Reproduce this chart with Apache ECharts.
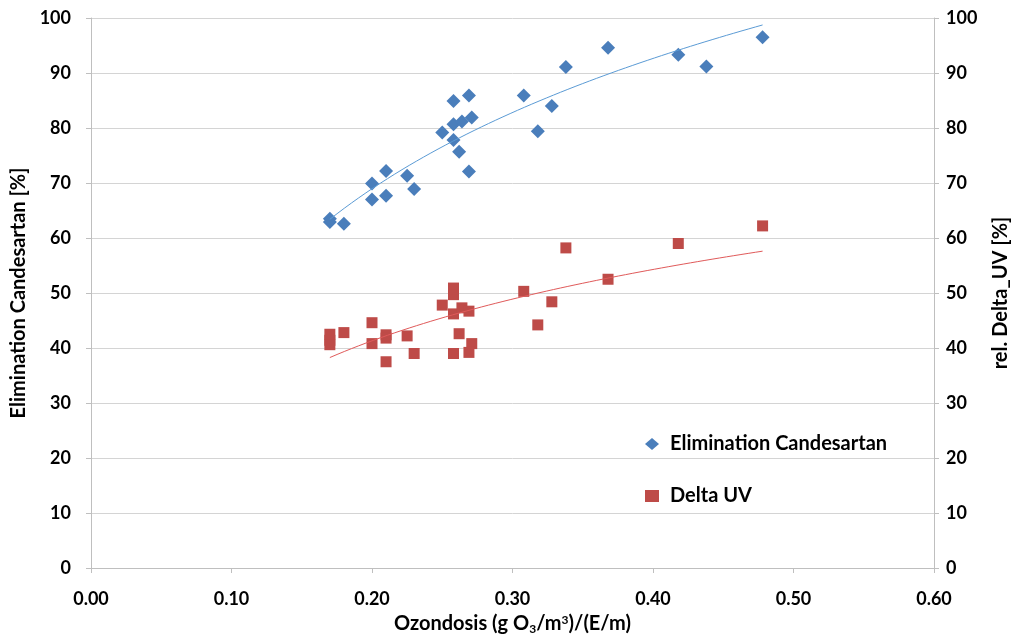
<!DOCTYPE html>
<html>
<head>
<meta charset="utf-8">
<script src="https://cdn.jsdelivr.net/npm/echarts@6/dist/echarts.min.js"></script>
<style>
  html, body { margin: 0; padding: 0; background: #fff; }
  #chart { width: 1019px; height: 640px; }
</style>
</head>
<body>
<div id="chart"></div>
<script>
// Ozone dose per sample and the measured responses
const elimDose = [0.17, 0.17, 0.18, 0.20, 0.20, 0.21, 0.21, 0.225, 0.23, 0.25,
                  0.258, 0.258, 0.258, 0.262, 0.264, 0.269, 0.271, 0.269,
                  0.308, 0.318, 0.328, 0.338, 0.368, 0.418, 0.438, 0.478];
const elimValues = [63.5, 62.9, 62.6, 69.9, 67.0, 72.2, 67.7, 71.3, 68.9, 79.2,
                    84.9, 80.7, 77.8, 75.7, 81.2, 85.9, 81.9, 72.1,
                    85.9, 79.4, 84.0, 91.1, 94.6, 93.3, 91.2, 96.5];

const uvDose = [0.17, 0.17, 0.17, 0.18, 0.20, 0.20, 0.21, 0.21, 0.21, 0.225, 0.23, 0.25,
                0.258, 0.258, 0.258, 0.258, 0.262, 0.264, 0.269, 0.271, 0.269,
                0.308, 0.318, 0.328, 0.338, 0.368, 0.418, 0.478];
const uvValues = [42.5, 41.4, 40.6, 42.8, 44.6, 40.8, 42.4, 41.8, 37.5, 42.2, 39.0, 47.8,
                  50.9, 49.7, 46.2, 39.0, 42.6, 47.3, 46.7, 40.8, 39.2,
                  50.3, 44.2, 48.4, 58.2, 52.5, 59.0, 62.2];

const xTicks = [0, 0.1, 0.2, 0.3, 0.4, 0.5, 0.6];
const yTicks = [0, 10, 20, 30, 40, 50, 60, 70, 80, 90, 100];

// Logarithmic least-squares trend  y = a*ln(x) + b
function logTrend(xs, ys, steps) {
  const n = xs.length;
  let sl = 0, sy = 0, sll = 0, sly = 0;
  for (let i = 0; i < n; i++) {
    const l = Math.log(xs[i]);
    sl += l; sy += ys[i]; sll += l * l; sly += l * ys[i];
  }
  const a = (n * sly - sl * sy) / (n * sll - sl * sl);
  const b = (sy - a * sl) / n;
  const lo = Math.min(...xs), hi = Math.max(...xs);
  const pts = [];
  for (let k = 0; k <= steps; k++) {
    const x = lo + (hi - lo) * k / steps;
    pts.push([x, a * Math.log(x) + b]);
  }
  return pts;
}

const zip = (xs, ys) => xs.map((x, i) => [x, ys[i]]);

const FONT = 'Lato';
const tickLabel = { fontFamily: FONT, fontWeight: 'bold', fontSize: 18, color: '#000' };
const titleStyle = { fontFamily: FONT, fontWeight: 'bold', fontSize: 20, color: '#000' };
const gridColor = '#d4d4d4';

const chart = echarts.init(document.getElementById('chart'));
chart.setOption({
  animation: false,
  backgroundColor: '#fff',
  grid: { left: 91, right: 83, top: 18, bottom: 68 },
  legend: {
    data: ['Elimination Candesartan', 'Delta UV'],
    orient: 'vertical',
    left: 640, top: 429,
    itemGap: 32,
    itemWidth: 14, itemHeight: 12,
    textStyle: { fontFamily: FONT, fontWeight: 'bold', fontSize: 20, color: '#000', padding: [0, 0, 0, 6] }
  },
  xAxis: {
    type: 'value', min: 0, max: 0.6, interval: 0.1,
    name: 'Ozondosis (g O{sub|3}/m{sup|3})/(E/m)',
    nameLocation: 'middle', nameGap: 45,
    nameTextStyle: Object.assign({}, titleStyle, {
      rich: {
        sub: { fontFamily: FONT, fontWeight: 'bold', fontSize: 12, padding: [10, 0, 0, 0] },
        sup: { fontFamily: FONT, fontWeight: 'bold', fontSize: 12, padding: [0, 0, 8, 0] }
      }
    }),
    axisLine: { lineStyle: { color: '#bfbfbf' } },
    axisTick: { show: true, length: 5, lineStyle: { color: '#bfbfbf' } },
    axisLabel: Object.assign({ margin: 22, formatter: v => v.toFixed(2) }, tickLabel),
    splitLine: { show: false }
  },
  yAxis: [
    {
      type: 'value', min: 0, max: 100, interval: 10,
      name: 'Elimination Candesartan [%]',
      nameLocation: 'middle', nameGap: 61,
      nameTextStyle: titleStyle,
      axisLine: { show: true, lineStyle: { color: '#bfbfbf' } },
      axisTick: { show: true, length: 5, lineStyle: { color: '#bfbfbf' } },
      axisLabel: Object.assign({ margin: 20 }, tickLabel),
      splitLine: { show: true, lineStyle: { color: gridColor, width: 1 } }
    },
    {
      type: 'value', min: 0, max: 100, interval: 10, position: 'right',
      name: 'rel. Delta_UV [%]',
      nameLocation: 'middle', nameGap: 57, nameRotate: 90,
      nameTextStyle: titleStyle,
      axisLine: { show: true, lineStyle: { color: '#bfbfbf' } },
      axisTick: { show: true, length: 5, lineStyle: { color: '#bfbfbf' } },
      axisLabel: Object.assign({ margin: 12 }, tickLabel),
      splitLine: { show: false }
    }
  ],
  series: [
    {
      name: 'Elimination Candesartan', type: 'scatter', yAxisIndex: 0,
      symbol: 'diamond', symbolSize: 14,
      itemStyle: { color: '#4a7ebb', opacity: 1 },
      data: zip(elimDose, elimValues), z: 3
    },
    {
      name: 'Delta UV', type: 'scatter', yAxisIndex: 1,
      symbol: 'rect', symbolSize: 11,
      itemStyle: { color: '#be4b48', opacity: 1 },
      data: zip(uvDose, uvValues), z: 3
    },
    {
      name: 'Trend Elimination', type: 'line', yAxisIndex: 0,
      showSymbol: false, smooth: false, silent: true,
      lineStyle: { color: '#5b9bd5', width: 1 },
      data: logTrend(elimDose, elimValues, 60), z: 4
    },
    {
      name: 'Trend Delta UV', type: 'line', yAxisIndex: 1,
      showSymbol: false, smooth: false, silent: true,
      lineStyle: { color: '#e05a5a', width: 1 },
      data: logTrend(uvDose, uvValues, 60), z: 4
    }
  ]
});
</script>
</body>
</html>
